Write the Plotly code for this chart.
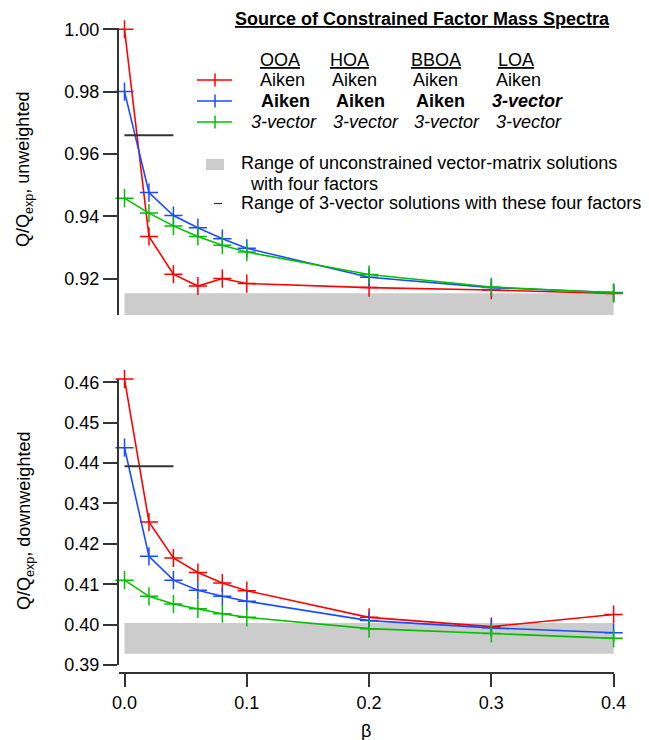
import plotly.graph_objects as go

# ---- data -------------------------------------------------------------
beta = [0.0, 0.02, 0.04, 0.06, 0.08, 0.1, 0.2, 0.3, 0.4]

# Q/Qexp, unweighted
unw_red = [1.000, 0.9335, 0.9214, 0.9176, 0.9200, 0.9184, 0.9171, 0.9163, 0.9152]
unw_blue = [0.9800, 0.9476, 0.9402, 0.9363, 0.9328, 0.9297, 0.9204, 0.9171, 0.9155]
unw_green = [0.9458, 0.9410, 0.9369, 0.9335, 0.9307, 0.9285, 0.9213, 0.9173, 0.9154]

# Q/Qexp, downweighted
dw_red = [0.4608, 0.4254, 0.4165, 0.4129, 0.4103, 0.4084, 0.4018, 0.3995, 0.4025]
dw_blue = [0.4438, 0.4169, 0.4110, 0.4085, 0.4070, 0.4058, 0.4010, 0.3992, 0.3980]
dw_green = [0.4110, 0.4070, 0.4051, 0.4039, 0.4027, 0.4018, 0.3990, 0.3978, 0.3966]

# range of unconstrained vector-matrix solutions (4 factors)
vm_range_unw = [0.9083, 0.9153]
vm_range_dw = [0.3928, 0.4004]
vm_beta = [0.0, 0.4]

# range of 3-vector solutions with these four factors
vec3_unw = 0.966
vec3_dw = 0.4392
vec3_beta = [0.0, 0.04]

# axis ticks
x_ticks = [0.0, 0.1, 0.2, 0.3, 0.4]
y_ticks_unw = [0.92, 0.94, 0.96, 0.98, 1.00]
y_ticks_dw = [0.39, 0.40, 0.41, 0.42, 0.43, 0.44, 0.45, 0.46]

# legend table
factor_names = ["OOA", "HOA", "BBOA", "LOA"]
row_red = ["Aiken", "Aiken", "Aiken", "Aiken"]
row_blue = ["<b>Aiken</b>", "<b>Aiken</b>", "<b>Aiken</b>", "<b><i>3-vector</i></b>"]
row_green = ["<i>3-vector</i>"] * 4

# ---- styling / layout helpers ----------------------------------------
FONT = "Liberation Sans, Arial, sans-serif"
FS = 18
RED, BLUE, GREEN = "#ff0000", "#1a4cff", "#00c000"
GRAY = "#cccccc"
DARK = "#333333"

W, H = 649, 740
L, R, T, B = 119, 35, 28, 60
PW, PH = W - L - R, H - T - B


def px(x):
    return (x - L) / PW


def py(y):
    return (H - B - y) / PH


fig = go.Figure()

series = [
    (unw_red, dw_red, RED),
    (unw_blue, dw_blue, BLUE),
    (unw_green, dw_green, GREEN),
]
for unw, dw, col in series:
    for yv, xa, ya in ((unw, "x", "y"), (dw, "x2", "y2")):
        fig.add_trace(go.Scatter(
            x=beta, y=yv, xaxis=xa, yaxis=ya, mode="lines+markers",
            line=dict(color=col, width=1.6),
            marker=dict(symbol="cross-thin", size=13,
                        line=dict(color=col, width=1.5)),
            cliponaxis=False, showlegend=False, hoverinfo="skip",
        ))

shapes = []
# shaded ranges
for rng, xr, yr in ((vm_range_unw, "x", "y"), (vm_range_dw, "x2", "y2")):
    shapes.append(dict(type="rect", xref=xr, yref=yr, x0=vm_beta[0], x1=vm_beta[1],
                       y0=rng[0], y1=rng[1], fillcolor=GRAY, line_width=0,
                       layer="below"))
# 3-vector ranges
for yv, xr, yr in ((vec3_unw, "x", "y"), (vec3_dw, "x2", "y2")):
    shapes.append(dict(type="line", xref=xr, yref=yr, x0=vec3_beta[0], x1=vec3_beta[1],
                       y0=yv, y1=yv, line=dict(color=DARK, width=2)))

# legend samples
for col, ypx in ((RED, 80), (BLUE, 101), (GREEN, 122)):
    shapes.append(dict(type="line", xref="paper", yref="paper",
                       x0=px(197), x1=px(232), y0=py(ypx), y1=py(ypx),
                       line=dict(color=col, width=1.6)))
    shapes.append(dict(type="line", xref="paper", yref="paper",
                       x0=px(215), x1=px(215), y0=py(ypx - 6.5), y1=py(ypx + 6.5),
                       line=dict(color=col, width=1.5)))
shapes.append(dict(type="rect", xref="paper", yref="paper",
                   x0=px(206), x1=px(224), y0=py(170), y1=py(159),
                   fillcolor=GRAY, line_width=0))
shapes.append(dict(type="line", xref="paper", yref="paper",
                   x0=px(214), x1=px(222), y0=py(203.5), y1=py(203.5),
                   line=dict(color=DARK, width=1.2)))

annotations = []


def note(text, x, y, anchor="left", **kw):
    annotations.append(dict(text=text, x=px(x), y=py(y), xref="paper", yref="paper",
                            xanchor=anchor, yanchor="middle", showarrow=False,
                            font=dict(family=FONT, size=FS, color="black"), **kw))


note("<b><u>Source of Constrained Factor Mass Spectra</u></b>", 422, 19, anchor="center")
for name, x in zip(factor_names, [258, 328, 409, 496]):
    note("<u>" + name + "</u>", x, 60)
for t, x in zip(row_red, [258, 330, 411, 494]):
    note(t, x, 80)
for t, x in zip(row_blue, [259, 334, 414, 490]):
    note(t, x, 101)
for t, x in zip(row_green, [249, 331, 412, 494]):
    note(t, x, 122)
note("Range of unconstrained vector-matrix solutions", 239, 163.5)
note("with four factors", 248, 183.5)
note("Range of 3-vector solutions with these four factors", 239, 203.5)

# axis titles
note("Q/Q<sub>exp</sub>, unweighted", 25, 170, anchor="center", textangle=-90)
note("Q/Q<sub>exp</sub>, downweighted", 25, 521, anchor="center", textangle=-90)
note("β", 366, 731, anchor="center")

axis_common = dict(showgrid=False, zeroline=False, showline=True, linecolor=DARK,
                   linewidth=2, ticks="outside", tickcolor=DARK, tickwidth=1.6,
                   tickfont=dict(family=FONT, size=FS, color="black"))

x_range = [-0.0045, 0.4003]

fig.update_layout(
    width=W, height=H,
    margin=dict(l=L, r=R, t=T, b=B),
    paper_bgcolor="white", plot_bgcolor="white",
    shapes=shapes, annotations=annotations,
    xaxis=dict(domain=[0, 1], anchor="y", range=x_range, visible=False,
               showgrid=False, zeroline=False),
    yaxis=dict(domain=[py(315), py(28)], anchor="x", range=[0.9083, 1.0004],
               tickvals=y_ticks_unw, tickformat=".2f", ticklen=14, **axis_common),
    xaxis2=dict(domain=[0, 1], anchor="free", position=py(673), range=x_range,
                tickvals=x_ticks, tickformat=".1f", ticklen=13, **axis_common),
    yaxis2=dict(domain=[py(665), py(378.5)], anchor="x2", range=[0.39, 0.46094],
                tickvals=y_ticks_dw, tickformat=".2f", ticklen=14, **axis_common),
)

fig.write_html("out.html")
